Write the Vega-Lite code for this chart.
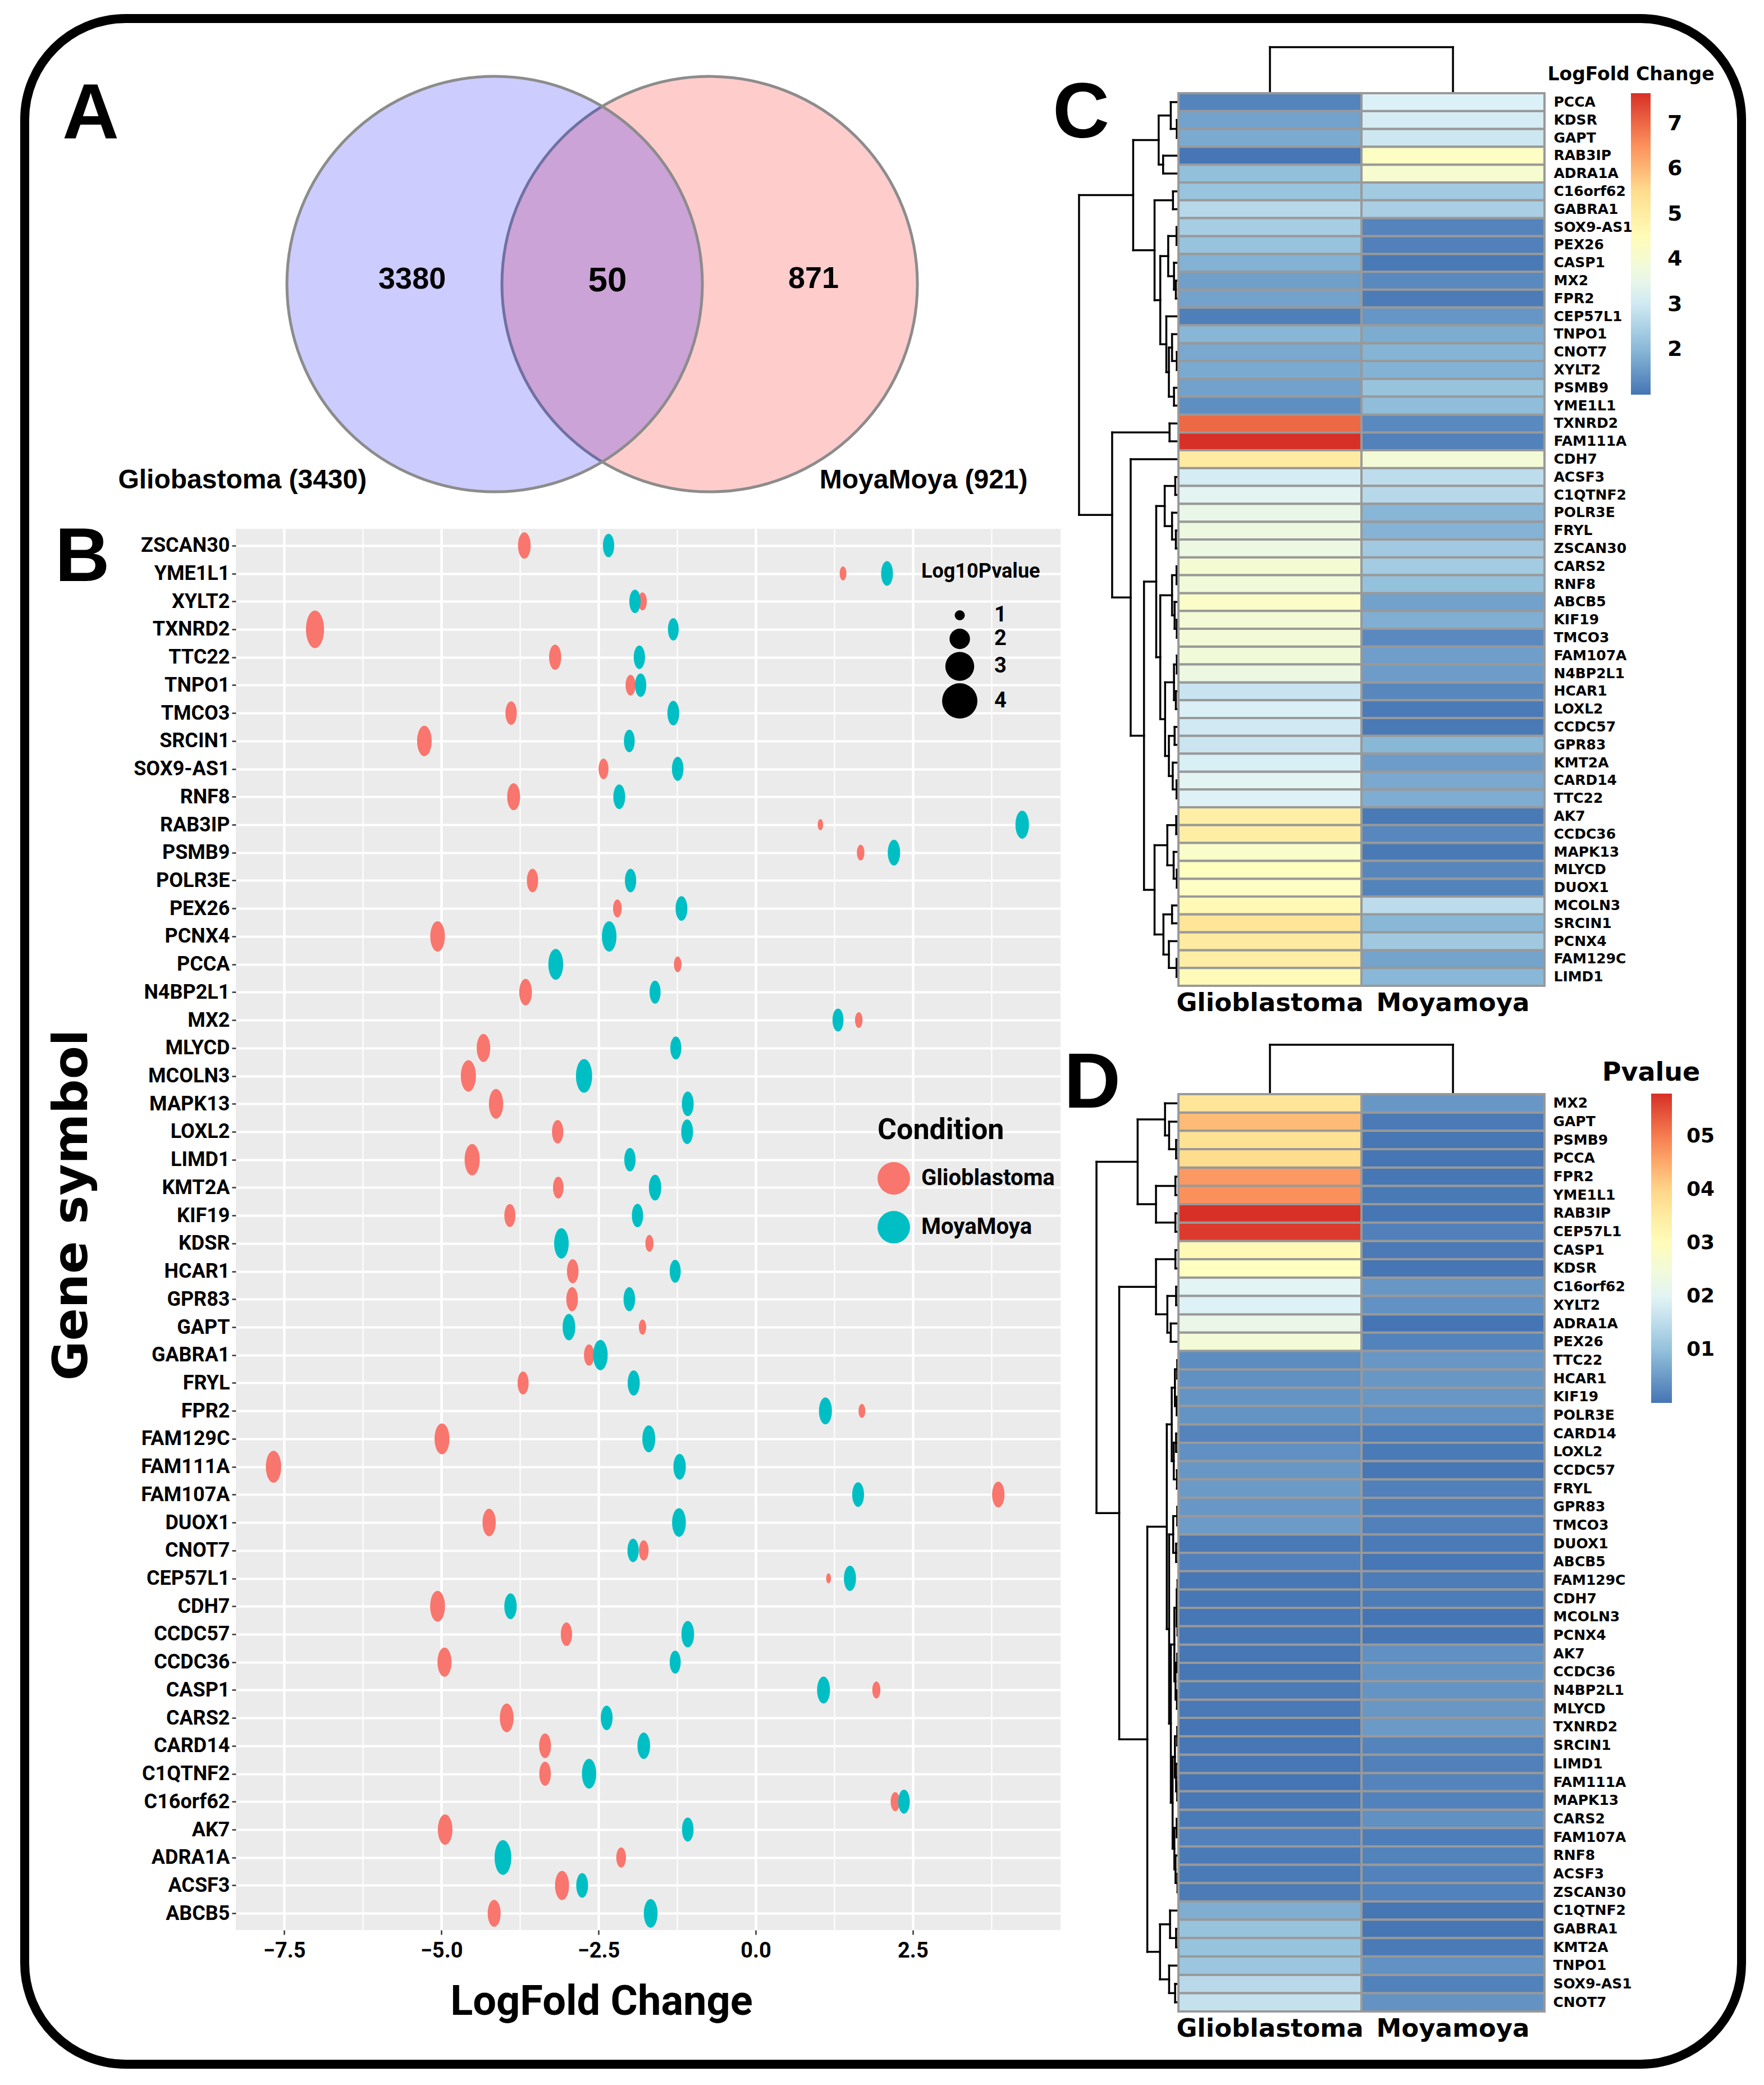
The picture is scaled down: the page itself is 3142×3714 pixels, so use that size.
{
"$schema": "https://vega.github.io/schema/vega-lite/v6.json",
"background": "white",
"padding": {"left": 36, "top": 25, "right": 32, "bottom": 29},
"config": {"view": {"stroke": null}, "axis": {"labelColor": "black", "titleColor": "black"}, "legend": {"labelColor": "black", "titleColor": "black"}},
"datasets": {
"genes": [
{"gene":"ABCB5","cond":"Glioblastoma","lfc":-4.16,"abs":4.16,"p":0.0015,"lp":2.74},
{"gene":"ACSF3","cond":"Glioblastoma","lfc":-3.08,"abs":3.08,"p":0.0008,"lp":3.05},
{"gene":"ADRA1A","cond":"Glioblastoma","lfc":-2.14,"abs":2.14,"p":0.022,"lp":1.98},
{"gene":"AK7","cond":"Glioblastoma","lfc":-4.94,"abs":4.94,"p":0.0002,"lp":3.21},
{"gene":"C16orf62","cond":"Glioblastoma","lfc":2.22,"abs":2.22,"p":0.020,"lp":1.87},
{"gene":"C1QTNF2","cond":"Glioblastoma","lfc":-3.35,"abs":3.35,"p":0.0075,"lp":2.40},
{"gene":"CARD14","cond":"Glioblastoma","lfc":-3.35,"abs":3.35,"p":0.002,"lp":2.46},
{"gene":"CARS2","cond":"Glioblastoma","lfc":-3.96,"abs":3.96,"p":0.0008,"lp":2.97},
{"gene":"CASP1","cond":"Glioblastoma","lfc":1.92,"abs":1.92,"p":0.031,"lp":1.68},
{"gene":"CCDC36","cond":"Glioblastoma","lfc":-4.95,"abs":4.95,"p":0.0003,"lp":3.05},
{"gene":"CCDC57","cond":"Glioblastoma","lfc":-3.01,"abs":3.01,"p":0.0045,"lp":2.33},
{"gene":"CDH7","cond":"Glioblastoma","lfc":-5.06,"abs":5.06,"p":0.0003,"lp":3.29},
{"gene":"CEP57L1","cond":"Glioblastoma","lfc":1.16,"abs":1.16,"p":0.057,"lp":1.24},
{"gene":"CNOT7","cond":"Glioblastoma","lfc":-1.78,"abs":1.78,"p":0.016,"lp":1.98},
{"gene":"DUOX1","cond":"Glioblastoma","lfc":-4.24,"abs":4.24,"p":0.0005,"lp":2.82},
{"gene":"FAM107A","cond":"Glioblastoma","lfc":3.86,"abs":3.86,"p":0.0015,"lp":2.60},
{"gene":"FAM111A","cond":"Glioblastoma","lfc":-7.67,"abs":7.67,"p":0.00005,"lp":3.45},
{"gene":"FAM129C","cond":"Glioblastoma","lfc":-4.99,"abs":4.99,"p":0.0002,"lp":3.29},
{"gene":"FPR2","cond":"Glioblastoma","lfc":1.69,"abs":1.69,"p":0.047,"lp":1.47},
{"gene":"FRYL","cond":"Glioblastoma","lfc":-3.70,"abs":3.70,"p":0.0048,"lp":2.27},
{"gene":"GABRA1","cond":"Glioblastoma","lfc":-2.65,"abs":2.65,"p":0.0105,"lp":2.09},
{"gene":"GAPT","cond":"Glioblastoma","lfc":-1.80,"abs":1.80,"p":0.043,"lp":1.55},
{"gene":"GPR83","cond":"Glioblastoma","lfc":-2.92,"abs":2.92,"p":0.0045,"lp":2.40},
{"gene":"HCAR1","cond":"Glioblastoma","lfc":-2.91,"abs":2.91,"p":0.0035,"lp":2.40},
{"gene":"KDSR","cond":"Glioblastoma","lfc":-1.69,"abs":1.69,"p":0.029,"lp":1.68},
{"gene":"KIF19","cond":"Glioblastoma","lfc":-3.91,"abs":3.91,"p":0.004,"lp":2.27},
{"gene":"KMT2A","cond":"Glioblastoma","lfc":-3.14,"abs":3.14,"p":0.0105,"lp":2.15},
{"gene":"LIMD1","cond":"Glioblastoma","lfc":-4.51,"abs":4.51,"p":0.0003,"lp":3.37},
{"gene":"LOXL2","cond":"Glioblastoma","lfc":-3.15,"abs":3.15,"p":0.0035,"lp":2.33},
{"gene":"MAPK13","cond":"Glioblastoma","lfc":-4.13,"abs":4.13,"p":0.0004,"lp":3.13},
{"gene":"MCOLN3","cond":"Glioblastoma","lfc":-4.57,"abs":4.57,"p":0.0002,"lp":3.37},
{"gene":"MLYCD","cond":"Glioblastoma","lfc":-4.33,"abs":4.33,"p":0.0005,"lp":2.89},
{"gene":"MX2","cond":"Glioblastoma","lfc":1.64,"abs":1.64,"p":0.037,"lp":1.59},
{"gene":"N4BP2L1","cond":"Glioblastoma","lfc":-3.66,"abs":3.66,"p":0.0008,"lp":2.67},
{"gene":"PCCA","cond":"Glioblastoma","lfc":-1.24,"abs":1.24,"p":0.039,"lp":1.59},
{"gene":"PCNX4","cond":"Glioblastoma","lfc":-5.06,"abs":5.06,"p":0.0003,"lp":3.21},
{"gene":"PEX26","cond":"Glioblastoma","lfc":-2.20,"abs":2.20,"p":0.025,"lp":1.77},
{"gene":"POLR3E","cond":"Glioblastoma","lfc":-3.55,"abs":3.55,"p":0.004,"lp":2.33},
{"gene":"PSMB9","cond":"Glioblastoma","lfc":1.67,"abs":1.67,"p":0.038,"lp":1.59},
{"gene":"RAB3IP","cond":"Glioblastoma","lfc":1.03,"abs":1.03,"p":0.058,"lp":1.30},
{"gene":"RNF8","cond":"Glioblastoma","lfc":-3.85,"abs":3.85,"p":0.0008,"lp":2.74},
{"gene":"SOX9-AS1","cond":"Glioblastoma","lfc":-2.42,"abs":2.42,"p":0.0145,"lp":2.03},
{"gene":"SRCIN1","cond":"Glioblastoma","lfc":-5.27,"abs":5.27,"p":0.0003,"lp":3.21},
{"gene":"TMCO3","cond":"Glioblastoma","lfc":-3.89,"abs":3.89,"p":0.005,"lp":2.33},
{"gene":"TNPO1","cond":"Glioblastoma","lfc":-1.99,"abs":1.99,"p":0.011,"lp":2.03},
{"gene":"TTC22","cond":"Glioblastoma","lfc":-3.19,"abs":3.19,"p":0.003,"lp":2.53},
{"gene":"TXNRD2","cond":"Glioblastoma","lfc":-7.01,"abs":7.01,"p":0.00004,"lp":4.40},
{"gene":"XYLT2","cond":"Glioblastoma","lfc":-1.80,"abs":1.80,"p":0.019,"lp":1.77},
{"gene":"YME1L1","cond":"Glioblastoma","lfc":1.39,"abs":1.39,"p":0.048,"lp":1.47},
{"gene":"ZSCAN30","cond":"Glioblastoma","lfc":-3.68,"abs":3.68,"p":0.0009,"lp":2.67},
{"gene":"ABCB5","cond":"MoyaMoya","lfc":-1.67,"abs":1.67,"p":0.0002,"lp":2.97},
{"gene":"ACSF3","cond":"MoyaMoya","lfc":-2.76,"abs":2.76,"p":0.0017,"lp":2.46},
{"gene":"ADRA1A","cond":"MoyaMoya","lfc":-4.02,"abs":4.02,"p":0.00005,"lp":3.91},
{"gene":"AK7","cond":"MoyaMoya","lfc":-1.08,"abs":1.08,"p":0.0035,"lp":2.40},
{"gene":"C16orf62","cond":"MoyaMoya","lfc":2.36,"abs":2.36,"p":0.0045,"lp":2.40},
{"gene":"C1QTNF2","cond":"MoyaMoya","lfc":-2.65,"abs":2.65,"p":0.0001,"lp":3.13},
{"gene":"CARD14","cond":"MoyaMoya","lfc":-1.78,"abs":1.78,"p":0.0012,"lp":2.67},
{"gene":"CARS2","cond":"MoyaMoya","lfc":-2.37,"abs":2.37,"p":0.0035,"lp":2.46},
{"gene":"CASP1","cond":"MoyaMoya","lfc":1.08,"abs":1.08,"p":0.0007,"lp":2.74},
{"gene":"CCDC36","cond":"MoyaMoya","lfc":-1.28,"abs":1.28,"p":0.004,"lp":2.27},
{"gene":"CCDC57","cond":"MoyaMoya","lfc":-1.08,"abs":1.08,"p":0.0002,"lp":2.67},
{"gene":"CDH7","cond":"MoyaMoya","lfc":-3.90,"abs":3.90,"p":0.001,"lp":2.60},
{"gene":"CEP57L1","cond":"MoyaMoya","lfc":1.50,"abs":1.50,"p":0.0015,"lp":2.53},
{"gene":"CNOT7","cond":"MoyaMoya","lfc":-1.95,"abs":1.95,"p":0.0038,"lp":2.33},
{"gene":"DUOX1","cond":"MoyaMoya","lfc":-1.22,"abs":1.22,"p":0.0007,"lp":2.97},
{"gene":"FAM107A","cond":"MoyaMoya","lfc":1.63,"abs":1.63,"p":0.0012,"lp":2.46},
{"gene":"FAM111A","cond":"MoyaMoya","lfc":-1.21,"abs":1.21,"p":0.002,"lp":2.60},
{"gene":"FAM129C","cond":"MoyaMoya","lfc":-1.70,"abs":1.70,"p":0.001,"lp":2.74},
{"gene":"FPR2","cond":"MoyaMoya","lfc":1.11,"abs":1.11,"p":0.0003,"lp":2.74},
{"gene":"FRYL","cond":"MoyaMoya","lfc":-1.94,"abs":1.94,"p":0.0015,"lp":2.53},
{"gene":"GABRA1","cond":"MoyaMoya","lfc":-2.47,"abs":2.47,"p":0.0001,"lp":3.21},
{"gene":"GAPT","cond":"MoyaMoya","lfc":-2.97,"abs":2.97,"p":0.0007,"lp":2.67},
{"gene":"GPR83","cond":"MoyaMoya","lfc":-2.01,"abs":2.01,"p":0.0014,"lp":2.40},
{"gene":"HCAR1","cond":"MoyaMoya","lfc":-1.28,"abs":1.28,"p":0.0045,"lp":2.27},
{"gene":"KDSR","cond":"MoyaMoya","lfc":-3.09,"abs":3.09,"p":0.00008,"lp":3.21},
{"gene":"KIF19","cond":"MoyaMoya","lfc":-1.88,"abs":1.88,"p":0.0045,"lp":2.33},
{"gene":"KMT2A","cond":"MoyaMoya","lfc":-1.60,"abs":1.60,"p":0.0008,"lp":2.60},
{"gene":"LIMD1","cond":"MoyaMoya","lfc":-2.00,"abs":2.00,"p":0.0016,"lp":2.33},
{"gene":"LOXL2","cond":"MoyaMoya","lfc":-1.09,"abs":1.09,"p":0.0008,"lp":2.46},
{"gene":"MAPK13","cond":"MoyaMoya","lfc":-1.08,"abs":1.08,"p":0.0017,"lp":2.46},
{"gene":"MCOLN3","cond":"MoyaMoya","lfc":-2.73,"abs":2.73,"p":0.00006,"lp":3.73},
{"gene":"MLYCD","cond":"MoyaMoya","lfc":-1.27,"abs":1.27,"p":0.0045,"lp":2.27},
{"gene":"MX2","cond":"MoyaMoya","lfc":1.31,"abs":1.31,"p":0.0045,"lp":2.27},
{"gene":"N4BP2L1","cond":"MoyaMoya","lfc":-1.60,"abs":1.60,"p":0.004,"lp":2.27},
{"gene":"PCCA","cond":"MoyaMoya","lfc":-3.18,"abs":3.18,"p":0.0001,"lp":3.29},
{"gene":"PCNX4","cond":"MoyaMoya","lfc":-2.33,"abs":2.33,"p":0.0001,"lp":3.21},
{"gene":"PEX26","cond":"MoyaMoya","lfc":-1.18,"abs":1.18,"p":0.0018,"lp":2.46},
{"gene":"POLR3E","cond":"MoyaMoya","lfc":-1.99,"abs":1.99,"p":0.0035,"lp":2.33},
{"gene":"PSMB9","cond":"MoyaMoya","lfc":2.20,"abs":2.20,"p":0.0003,"lp":2.60},
{"gene":"RAB3IP","cond":"MoyaMoya","lfc":4.24,"abs":4.24,"p":0.0001,"lp":2.89},
{"gene":"RNF8","cond":"MoyaMoya","lfc":-2.17,"abs":2.17,"p":0.0018,"lp":2.46},
{"gene":"SOX9-AS1","cond":"MoyaMoya","lfc":-1.24,"abs":1.24,"p":0.0017,"lp":2.40},
{"gene":"SRCIN1","cond":"MoyaMoya","lfc":-2.01,"abs":2.01,"p":0.002,"lp":2.21},
{"gene":"TMCO3","cond":"MoyaMoya","lfc":-1.31,"abs":1.31,"p":0.0015,"lp":2.46},
{"gene":"TNPO1","cond":"MoyaMoya","lfc":-1.83,"abs":1.83,"p":0.0037,"lp":2.33},
{"gene":"TTC22","cond":"MoyaMoya","lfc":-1.85,"abs":1.85,"p":0.0045,"lp":2.33},
{"gene":"TXNRD2","cond":"MoyaMoya","lfc":-1.31,"abs":1.31,"p":0.0048,"lp":2.21},
{"gene":"XYLT2","cond":"MoyaMoya","lfc":-1.92,"abs":1.92,"p":0.0037,"lp":2.33},
{"gene":"YME1L1","cond":"MoyaMoya","lfc":2.09,"abs":2.09,"p":0.0006,"lp":2.46},
{"gene":"ZSCAN30","cond":"MoyaMoya","lfc":-2.34,"abs":2.34,"p":0.0017,"lp":2.33}
],
"dendC": [
{"h":2.9,"pa":2,"ha":0,"pb":3,"hb":0},
{"h":13.8,"pa":1,"ha":0,"pb":2.5,"hb":2.9},
{"h":27.6,"pa":4,"ha":0,"pb":5,"hb":0},
{"h":35.6,"pa":1.75,"ha":13.8,"pb":4.5,"hb":27.6},
{"h":9.8,"pa":6,"ha":0,"pb":7,"hb":0},
{"h":3.4,"pa":8,"ha":0,"pb":9,"hb":0},
{"h":4.6,"pa":11,"ha":0,"pb":12,"hb":0},
{"h":8,"pa":10,"ha":0,"pb":11.5,"hb":4.6},
{"h":18.4,"pa":8.5,"ha":3.4,"pb":10.75,"hb":8},
{"h":2.9,"pa":15,"ha":0,"pb":16,"hb":0},
{"h":11.5,"pa":14,"ha":0,"pb":15.5,"hb":2.9},
{"h":8,"pa":17,"ha":0,"pb":18,"hb":0},
{"h":17.2,"pa":14.75,"ha":11.5,"pb":17.5,"hb":8},
{"h":21.8,"pa":13,"ha":0,"pb":16.125,"hb":17.2},
{"h":32.7,"pa":9.625,"ha":18.4,"pb":14.5625,"hb":21.8},
{"h":43,"pa":6.5,"ha":9.8,"pb":12.094,"hb":32.7},
{"h":81.5,"pa":3.125,"ha":35.6,"pb":9.297,"hb":43},
{"h":16,"pa":19,"ha":0,"pb":20,"hb":0},
{"h":5.7,"pa":22,"ha":0,"pb":23,"hb":0},
{"h":4.6,"pa":25,"ha":0,"pb":26,"hb":0},
{"h":11.5,"pa":24,"ha":0,"pb":25.5,"hb":4.6},
{"h":24.7,"pa":22.5,"ha":5.7,"pb":24.75,"hb":11.5},
{"h":3.4,"pa":27,"ha":0,"pb":28,"hb":0},
{"h":2.9,"pa":30,"ha":0,"pb":31,"hb":0},
{"h":6.9,"pa":29,"ha":0,"pb":30.5,"hb":2.9},
{"h":11.5,"pa":27.5,"ha":3.4,"pb":29.75,"hb":6.9},
{"h":2.9,"pa":32,"ha":0,"pb":33,"hb":0},
{"h":4.6,"pa":34,"ha":0,"pb":35,"hb":0},
{"h":8,"pa":32.5,"ha":2.9,"pb":34.5,"hb":4.6},
{"h":6.9,"pa":36,"ha":0,"pb":37,"hb":0},
{"h":3.4,"pa":39,"ha":0,"pb":40,"hb":0},
{"h":10.3,"pa":38,"ha":0,"pb":39.5,"hb":3.4},
{"h":17.2,"pa":36.5,"ha":6.9,"pb":38.75,"hb":10.3},
{"h":24,"pa":33.5,"ha":8,"pb":37.625,"hb":17.2},
{"h":32.7,"pa":28.625,"ha":11.5,"pb":35.5625,"hb":24},
{"h":40,"pa":23.625,"ha":24.7,"pb":32.094,"hb":32.7},
{"h":4,"pa":41,"ha":0,"pb":42,"hb":0},
{"h":2.9,"pa":44,"ha":0,"pb":45,"hb":0},
{"h":8.6,"pa":43,"ha":0,"pb":44.5,"hb":2.9},
{"h":20,"pa":41.5,"ha":4,"pb":43.75,"hb":8.6},
{"h":11.5,"pa":46,"ha":0,"pb":47,"hb":0},
{"h":3.4,"pa":49,"ha":0,"pb":50,"hb":0},
{"h":17.2,"pa":48,"ha":0,"pb":49.5,"hb":3.4},
{"h":27,"pa":46.5,"ha":11.5,"pb":48.75,"hb":17.2},
{"h":43,"pa":42.625,"ha":20,"pb":47.625,"hb":27},
{"h":62,"pa":27.859,"ha":40,"pb":45.125,"hb":43},
{"h":86,"pa":21,"ha":0,"pb":36.492,"hb":62},
{"h":119.4,"pa":19.5,"ha":16,"pb":28.746,"hb":86},
{"h":179,"pa":6.211,"ha":81.5,"pb":24.123,"hb":119.4}
],
"dendD": [
{"h":4,"pa":3,"ha":0,"pb":4,"hb":0},
{"h":16,"pa":2,"ha":0,"pb":3.5,"hb":4},
{"h":23,"pa":1,"ha":0,"pb":2.75,"hb":16},
{"h":5.2,"pa":5,"ha":0,"pb":6,"hb":0},
{"h":5.2,"pa":7,"ha":0,"pb":8,"hb":0},
{"h":38.5,"pa":5.5,"ha":5.2,"pb":7.5,"hb":5.2},
{"h":70,"pa":1.875,"ha":23,"pb":6.5,"hb":38.5},
{"h":5.2,"pa":9,"ha":0,"pb":10,"hb":0},
{"h":4,"pa":11,"ha":0,"pb":12,"hb":0},
{"h":13.2,"pa":13,"ha":0,"pb":14,"hb":0},
{"h":19,"pa":11.5,"ha":4,"pb":13.5,"hb":13.2},
{"h":38.5,"pa":9.5,"ha":5.2,"pb":12.5,"hb":19},
{"h":2,"pa":15,"ha":0,"pb":16,"hb":0},
{"h":3,"pa":17,"ha":0,"pb":18,"hb":0},
{"h":6,"pa":15.5,"ha":2,"pb":17.5,"hb":3},
{"h":4,"pa":19,"ha":0,"pb":20,"hb":0},
{"h":2.5,"pa":21,"ha":0,"pb":22,"hb":0},
{"h":8,"pa":19.5,"ha":4,"pb":21.5,"hb":2.5},
{"h":11.5,"pa":16.5,"ha":6,"pb":20.5,"hb":8},
{"h":2,"pa":23,"ha":0,"pb":24,"hb":0},
{"h":4,"pa":25,"ha":0,"pb":26,"hb":0},
{"h":9,"pa":23.5,"ha":2,"pb":25.5,"hb":4},
{"h":1.5,"pa":27,"ha":0,"pb":28,"hb":0},
{"h":1.5,"pa":29,"ha":0,"pb":30,"hb":0},
{"h":3,"pa":27.5,"ha":1.5,"pb":29.5,"hb":1.5},
{"h":2,"pa":31,"ha":0,"pb":32,"hb":0},
{"h":2.5,"pa":33,"ha":0,"pb":34,"hb":0},
{"h":5,"pa":31.5,"ha":2,"pb":33.5,"hb":2.5},
{"h":7,"pa":28.5,"ha":3,"pb":32.5,"hb":5},
{"h":2,"pa":35,"ha":0,"pb":36,"hb":0},
{"h":2,"pa":38,"ha":0,"pb":39,"hb":0},
{"h":4,"pa":37,"ha":0,"pb":38.5,"hb":2},
{"h":6,"pa":35.5,"ha":2,"pb":37.75,"hb":4},
{"h":3,"pa":40,"ha":0,"pb":41,"hb":0},
{"h":1.5,"pa":43,"ha":0,"pb":44,"hb":0},
{"h":5,"pa":42,"ha":0,"pb":43.5,"hb":1.5},
{"h":7,"pa":40.5,"ha":3,"pb":42.75,"hb":5},
{"h":10,"pa":36.625,"ha":6,"pb":41.625,"hb":7},
{"h":13,"pa":30.5,"ha":7,"pb":39.125,"hb":10},
{"h":16,"pa":24.5,"ha":9,"pb":34.8125,"hb":13},
{"h":20,"pa":18.5,"ha":11.5,"pb":29.656,"hb":16},
{"h":4,"pa":46,"ha":0,"pb":47,"hb":0},
{"h":14.4,"pa":45,"ha":0,"pb":46.5,"hb":4},
{"h":5.7,"pa":49,"ha":0,"pb":50,"hb":0},
{"h":16,"pa":48,"ha":0,"pb":49.5,"hb":5.7},
{"h":31.6,"pa":45.75,"ha":14.4,"pb":48.75,"hb":16},
{"h":53.4,"pa":24.078,"ha":20,"pb":47.25,"hb":31.6},
{"h":101.6,"pa":11,"ha":38.5,"pb":35.664,"hb":53.4},
{"h":140.6,"pa":4.1875,"ha":70,"pb":23.332,"hb":101.6}
],
"colDendC": [{"h":83,"pa":1,"ha":0,"pb":2,"hb":0}],
"colDendD": [{"h":88,"pa":1,"ha":0,"pb":2,"hb":0}],
"venn": [{"set":"MoyaMoya","cx":1.035,"cy":0},{"set":"Gliobastoma","cx":0,"cy":0}],
"vennText": [
{"label":"3380","kind":"unique","x":-0.397,"y":0.022},
{"label":"50","kind":"shared","x":0.543,"y":0.016},
{"label":"871","kind":"unique","x":1.535,"y":0.024},
{"label":"Gliobastoma (3430)","kind":"set","x":-1.214,"y":-0.946},
{"label":"MoyaMoya (921)","kind":"set","x":2.065,"y":-0.946}
]
},
"concat": [
{"width": 3058, "height": 3644, "data": {"values": []}, "mark": "point",
 "view": {"stroke": "black", "strokeWidth": 16, "cornerRadius": 180, "fill": null}},
{"vconcat": [
{"width": 10, "height": 48, "data": {"values": []}, "mark": "point", "view": {"fill": "white", "fillOpacity": 0, "stroke": null}},
{"hconcat": [
{"vconcat": [
 {"width": 1469, "height": 860,
  "title": {"text": "A", "anchor": "start", "frame": "group", "orient": "top", "font": "Liberation Sans", "fontSize": 140, "fontWeight": "bold", "color": "black", "baseline": "alphabetic", "offset": -305, "dx": -309},
  "layer": [
   {"data": {"name": "venn"},
    "mark": {"type": "point", "shape": "circle", "filled": true, "size": 547600, "opacity": 1, "fillOpacity": 0.2, "stroke": "#8C8C8C", "strokeWidth": 5, "strokeOpacity": 1},
    "encoding": {
     "x": {"field": "cx", "type": "quantitative", "scale": {"domain": [-1.246, 2.724], "nice": false, "zero": false}, "axis": null},
     "y": {"field": "cy", "type": "quantitative", "scale": {"domain": [-1.178, 1.146], "nice": false, "zero": false}, "axis": null},
     "color": {"field": "set", "type": "nominal", "scale": {"domain": ["MoyaMoya", "Gliobastoma"], "range": ["#FF0000", "#0000FF"]}, "legend": null}}},
   {"data": {"name": "vennText"}, "transform": [{"filter": "datum.kind == 'unique'"}],
    "mark": {"type": "text", "font": "Liberation Sans", "fontWeight": "bold", "fontSize": 54, "color": "black", "align": "center", "baseline": "middle"},
    "encoding": {
     "x": {"field": "x", "type": "quantitative", "scale": {"domain": [-1.246, 2.724], "nice": false, "zero": false}, "axis": null},
     "y": {"field": "y", "type": "quantitative", "scale": {"domain": [-1.178, 1.146], "nice": false, "zero": false}, "axis": null},
     "text": {"field": "label"}}},
   {"data": {"name": "vennText"}, "transform": [{"filter": "datum.kind == 'shared'"}],
    "mark": {"type": "text", "font": "Liberation Sans", "fontWeight": "bold", "fontSize": 62, "color": "black", "align": "center", "baseline": "middle"},
    "encoding": {
     "x": {"field": "x", "type": "quantitative", "scale": {"domain": [-1.246, 2.724], "nice": false, "zero": false}, "axis": null},
     "y": {"field": "y", "type": "quantitative", "scale": {"domain": [-1.178, 1.146], "nice": false, "zero": false}, "axis": null},
     "text": {"field": "label"}}},
   {"data": {"name": "vennText"}, "transform": [{"filter": "datum.kind == 'set'"}],
    "mark": {"type": "text", "font": "Liberation Sans", "fontWeight": "bold", "fontSize": 48, "color": "black", "align": "center", "baseline": "middle"},
    "encoding": {
     "x": {"field": "x", "type": "quantitative", "scale": {"domain": [-1.246, 2.724], "nice": false, "zero": false}, "axis": null},
     "y": {"field": "y", "type": "quantitative", "scale": {"domain": [-1.178, 1.146], "nice": false, "zero": false}, "axis": null},
     "text": {"field": "label"}}}
  ]},
 {"width": 1469, "height": 2496,
  "view": {"fill": "#EBEBEB", "stroke": null},
  "title": {"text": "B", "anchor": "start", "frame": "group", "orient": "top", "font": "Liberation Sans", "fontSize": 135, "fontWeight": "bold", "color": "black", "baseline": "alphabetic", "offset": -228, "dx": -322},
  "data": {"name": "genes"},
  "encoding": {
   "y": {"field": "gene", "type": "nominal",
    "sort": ["ZSCAN30","YME1L1","XYLT2","TXNRD2","TTC22","TNPO1","TMCO3","SRCIN1","SOX9-AS1","RNF8","RAB3IP","PSMB9","POLR3E","PEX26","PCNX4","PCCA","N4BP2L1","MX2","MLYCD","MCOLN3","MAPK13","LOXL2","LIMD1","KMT2A","KIF19","KDSR","HCAR1","GPR83","GAPT","GABRA1","FRYL","FPR2","FAM129C","FAM111A","FAM107A","DUOX1","CNOT7","CEP57L1","CDH7","CCDC57","CCDC36","CASP1","CARS2","CARD14","C1QTNF2","C16orf62","AK7","ADRA1A","ACSF3","ABCB5"],
    "scale": {"type": "point", "padding": 0.6},
    "axis": {"title": "Gene symbol", "titleFont": "DejaVu Sans", "titleFontSize": 86, "titleFontWeight": "bold", "titleAngle": 270, "titleX": -266, "titleY": 1204, "titleAlign": "center", "titleBaseline": "alphabetic",
     "labelFont": "Roboto", "labelFontSize": 36, "labelFontWeight": "bold", "labelLimit": 500, "labelPadding": 4, "labelOverlap": false,
     "tickColor": "#333333", "tickSize": 7, "tickWidth": 2.5, "domain": false, "grid": true, "gridColor": "white", "gridWidth": 4}}
  },
  "layer": [
   {"mark": {"type": "point", "opacity": 0},
    "encoding": {"x": {"field": "lfc", "type": "quantitative", "scale": {"domain": [-8.27, 4.85], "nice": false, "zero": false},
     "axis": {"orient": "bottom", "values": [-6.25, -3.75, -1.25, 1.25, 3.75], "grid": true, "gridColor": "white", "gridWidth": 2.2, "labels": false, "ticks": false, "domain": false, "title": null}}}},
   {"mark": {"type": "point", "shape": "M-0.48,0A0.48,1,0,1,0,0.48,0A0.48,1,0,1,0,-0.48,0Z", "filled": true, "opacity": 1, "strokeWidth": 0},
    "encoding": {
     "x": {"field": "lfc", "type": "quantitative", "scale": {"domain": [-8.27, 4.85], "nice": false, "zero": false},
      "axis": {"orient": "bottom", "values": [-7.5, -5, -2.5, 0, 2.5], "format": ".1f", "title": "LogFold Change",
       "titleFont": "Roboto", "titleFontSize": 74, "titleFontWeight": "bold", "titleX": 651, "titlePadding": 36,
       "labelFont": "Roboto", "labelFontSize": 38, "labelFontWeight": "bold", "labelPadding": 10,
       "tickColor": "#333333", "tickSize": 8, "tickWidth": 2.5, "domain": false, "grid": true, "gridColor": "white", "gridWidth": 4.5}},
     "color": {"field": "cond", "type": "nominal", "scale": {"domain": ["Glioblastoma", "MoyaMoya"], "range": ["#F8766D", "#00BFC4"]},
      "legend": {"title": "Condition", "orient": "none", "legendX": 1143, "legendY": 1046, "symbolType": "circle", "symbolSize": 3364, "symbolStrokeWidth": 0, "symbolOpacity": 1,
       "titleFont": "Roboto", "titleFontSize": 52, "titleFontWeight": "bold", "titleLimit": 600,
       "labelFont": "Roboto", "labelFontSize": 40, "labelFontWeight": "bold", "labelLimit": 500,
       "rowPadding": 29, "labelOffset": 20, "titlePadding": 30}},
     "size": {"field": "lp", "type": "quantitative", "scale": {"domain": [1.24, 4.4], "range": [324, 4489], "zero": false, "clamp": true},
      "legend": {"title": "Log10Pvalue", "orient": "none", "legendX": 1221, "legendY": 59, "values": [1, 2, 3, 4], "format": "d", "symbolType": "circle", "symbolFillColor": "black", "symbolStrokeColor": "black", "symbolStrokeWidth": 0, "symbolOpacity": 1,
       "titleFont": "Roboto", "titleFontSize": 36, "titleFontWeight": "bold", "titleLimit": 600,
       "labelFont": "Roboto", "labelFontSize": 38, "labelFontWeight": "bold", "labelLimit": 300,
       "rowPadding": 4, "labelOffset": 30, "symbolOffset": 37, "titlePadding": 40}}
    }}
  ],
  "resolve": {"axis": {"x": "independent"}}}
 ], "spacing": 0, "bounds": "flush",
 "resolve": {"scale": {"color": "independent", "size": "independent"}, "legend": {"color": "independent", "size": "independent"}}},
{"concat": [
 {"width": 180, "height": 84, "data": {"values": []}, "mark": "point",
  "title": {"text": "C", "anchor": "start", "frame": "group", "orient": "top", "font": "Liberation Sans", "fontSize": 140, "fontWeight": "bold", "color": "black", "baseline": "alphabetic", "offset": -303, "dx": -44}},
 {"width": 652, "height": 84, "data": {"name": "colDendC"},
  "layer": [
   {"mark": {"type": "rule", "color": "black", "strokeWidth": 3.5, "strokeCap": "square"},
    "encoding": {"x": {"field": "pa", "type": "quantitative", "scale": {"domain": [0.5, 2.5], "nice": false, "zero": false}, "axis": null},
     "y": {"field": "ha", "type": "quantitative", "scale": {"domain": [0, 85], "nice": false, "zero": false}, "axis": null}, "y2": {"field": "h"}}},
   {"mark": {"type": "rule", "color": "black", "strokeWidth": 3.5, "strokeCap": "square"},
    "encoding": {"x": {"field": "pb", "type": "quantitative", "scale": {"domain": [0.5, 2.5], "nice": false, "zero": false}, "axis": null},
     "y": {"field": "hb", "type": "quantitative", "scale": {"domain": [0, 85], "nice": false, "zero": false}, "axis": null}, "y2": {"field": "h"}}},
   {"mark": {"type": "rule", "color": "black", "strokeWidth": 3.5, "strokeCap": "square"},
    "encoding": {"x": {"field": "pa", "type": "quantitative", "scale": {"domain": [0.5, 2.5], "nice": false, "zero": false}, "axis": null}, "x2": {"field": "pb"},
     "y": {"field": "h", "type": "quantitative", "scale": {"domain": [0, 85], "nice": false, "zero": false}, "axis": null}}}
  ]},
 {"width": 180, "height": 1590, "data": {"name": "dendC"},
  "layer": [
   {"mark": {"type": "rule", "color": "black", "strokeWidth": 3.5, "strokeCap": "square"},
    "encoding": {"x": {"field": "h", "type": "quantitative", "scale": {"domain": [0, 182], "reverse": true, "nice": false, "zero": false}, "axis": null},
     "y": {"field": "pa", "type": "quantitative", "scale": {"domain": [0.5, 50.5], "reverse": true, "nice": false, "zero": false}, "axis": null}, "y2": {"field": "pb"}}},
   {"mark": {"type": "rule", "color": "black", "strokeWidth": 3.5, "strokeCap": "square"},
    "encoding": {"x": {"field": "ha", "type": "quantitative", "scale": {"domain": [0, 182], "reverse": true, "nice": false, "zero": false}, "axis": null}, "x2": {"field": "h"},
     "y": {"field": "pa", "type": "quantitative", "scale": {"domain": [0.5, 50.5], "reverse": true, "nice": false, "zero": false}, "axis": null}}},
   {"mark": {"type": "rule", "color": "black", "strokeWidth": 3.5, "strokeCap": "square"},
    "encoding": {"x": {"field": "hb", "type": "quantitative", "scale": {"domain": [0, 182], "reverse": true, "nice": false, "zero": false}, "axis": null}, "x2": {"field": "h"},
     "y": {"field": "pb", "type": "quantitative", "scale": {"domain": [0.5, 50.5], "reverse": true, "nice": false, "zero": false}, "axis": null}}}
  ]},
 {"width": 652, "height": 1590, "data": {"name": "genes"},
  "mark": {"type": "rect", "stroke": "#999999", "strokeWidth": 4},
  "encoding": {
   "x": {"field": "cond", "type": "nominal", "sort": ["Glioblastoma", "MoyaMoya"], "scale": {"paddingInner": 0, "paddingOuter": 0},
    "axis": {"orient": "bottom", "title": null, "labelAngle": 0, "labelFont": "DejaVu Sans", "labelFontSize": 45, "labelFontWeight": "bold", "labelPadding": 8, "ticks": false, "domain": false, "labelLimit": 600, "labelOverlap": false,
     "labelExpr": "datum.label == 'MoyaMoya' ? 'Moyamoya' : datum.label"}},
   "y": {"field": "gene", "type": "nominal",
    "sort": ["PCCA","KDSR","GAPT","RAB3IP","ADRA1A","C16orf62","GABRA1","SOX9-AS1","PEX26","CASP1","MX2","FPR2","CEP57L1","TNPO1","CNOT7","XYLT2","PSMB9","YME1L1","TXNRD2","FAM111A","CDH7","ACSF3","C1QTNF2","POLR3E","FRYL","ZSCAN30","CARS2","RNF8","ABCB5","KIF19","TMCO3","FAM107A","N4BP2L1","HCAR1","LOXL2","CCDC57","GPR83","KMT2A","CARD14","TTC22","AK7","CCDC36","MAPK13","MLYCD","DUOX1","MCOLN3","SRCIN1","PCNX4","FAM129C","LIMD1"],
    "scale": {"paddingInner": 0, "paddingOuter": 0},
    "axis": {"orient": "right", "title": null, "labelFont": "DejaVu Sans", "labelFontSize": 25, "labelFontWeight": "bold", "labelPadding": 16, "ticks": false, "domain": false, "labelLimit": 400, "labelOverlap": false}},
   "color": {"field": "abs", "type": "quantitative",
    "scale": {"domain": [1.01, 2.1217, 3.2333, 4.345, 5.4567, 6.5683, 7.68], "range": ["#4575B4", "#91BFDB", "#E0F3F8", "#FFFFBF", "#FEE090", "#FC8D59", "#D73027"], "interpolate": "rgb"},
    "legend": {"title": "LogFold Change", "orient": "none", "legendX": 657, "legendY": -49, "direction": "vertical", "gradientLength": 537, "gradientThickness": 35, "gradientStrokeWidth": 0,
     "values": [2, 3, 4, 5, 6, 7], "format": "d", "labelFont": "DejaVu Sans", "labelFontSize": 38, "labelFontWeight": "bold", "labelOffset": 30, "labelOverlap": false,
     "titleFont": "DejaVu Sans", "titleFontSize": 33, "titleFontWeight": "bold", "titleAnchor": "start", "titleAlign": "center", "titlePadding": 16, "titleLimit": 600}}
  }},
 {"width": 180, "height": 193, "data": {"values": []}, "mark": "point",
  "title": {"text": "D", "anchor": "start", "frame": "group", "orient": "top", "font": "Liberation Sans", "fontSize": 140, "fontWeight": "bold", "color": "black", "baseline": "alphabetic", "offset": -357, "dx": -24}},
 {"width": 652, "height": 193, "data": {"name": "colDendD"},
  "layer": [
   {"mark": {"type": "rule", "color": "black", "strokeWidth": 3.5, "strokeCap": "square"},
    "encoding": {"x": {"field": "pa", "type": "quantitative", "scale": {"domain": [0.5, 2.5], "nice": false, "zero": false}, "axis": null},
     "y": {"field": "ha", "type": "quantitative", "scale": {"domain": [0, 193], "nice": false, "zero": false}, "axis": null}, "y2": {"field": "h"}}},
   {"mark": {"type": "rule", "color": "black", "strokeWidth": 3.5, "strokeCap": "square"},
    "encoding": {"x": {"field": "pb", "type": "quantitative", "scale": {"domain": [0.5, 2.5], "nice": false, "zero": false}, "axis": null},
     "y": {"field": "hb", "type": "quantitative", "scale": {"domain": [0, 193], "nice": false, "zero": false}, "axis": null}, "y2": {"field": "h"}}},
   {"mark": {"type": "rule", "color": "black", "strokeWidth": 3.5, "strokeCap": "square"},
    "encoding": {"x": {"field": "pa", "type": "quantitative", "scale": {"domain": [0.5, 2.5], "nice": false, "zero": false}, "axis": null}, "x2": {"field": "pb"},
     "y": {"field": "h", "type": "quantitative", "scale": {"domain": [0, 193], "nice": false, "zero": false}, "axis": null}}}
  ]},
 {"width": 180, "height": 1634, "data": {"name": "dendD"},
  "layer": [
   {"mark": {"type": "rule", "color": "black", "strokeWidth": 3.5, "strokeCap": "square"},
    "encoding": {"x": {"field": "h", "type": "quantitative", "scale": {"domain": [0, 173.4], "reverse": true, "nice": false, "zero": false}, "axis": null},
     "y": {"field": "pa", "type": "quantitative", "scale": {"domain": [0.5, 50.5], "reverse": true, "nice": false, "zero": false}, "axis": null}, "y2": {"field": "pb"}}},
   {"mark": {"type": "rule", "color": "black", "strokeWidth": 3.5, "strokeCap": "square"},
    "encoding": {"x": {"field": "ha", "type": "quantitative", "scale": {"domain": [0, 173.4], "reverse": true, "nice": false, "zero": false}, "axis": null}, "x2": {"field": "h"},
     "y": {"field": "pa", "type": "quantitative", "scale": {"domain": [0.5, 50.5], "reverse": true, "nice": false, "zero": false}, "axis": null}}},
   {"mark": {"type": "rule", "color": "black", "strokeWidth": 3.5, "strokeCap": "square"},
    "encoding": {"x": {"field": "hb", "type": "quantitative", "scale": {"domain": [0, 173.4], "reverse": true, "nice": false, "zero": false}, "axis": null}, "x2": {"field": "h"},
     "y": {"field": "pb", "type": "quantitative", "scale": {"domain": [0.5, 50.5], "reverse": true, "nice": false, "zero": false}, "axis": null}}}
  ]},
 {"width": 652, "height": 1634, "data": {"name": "genes"},
  "mark": {"type": "rect", "stroke": "#999999", "strokeWidth": 4},
  "encoding": {
   "x": {"field": "cond", "type": "nominal", "sort": ["Glioblastoma", "MoyaMoya"], "scale": {"paddingInner": 0, "paddingOuter": 0},
    "axis": {"orient": "bottom", "title": null, "labelAngle": 0, "labelFont": "DejaVu Sans", "labelFontSize": 45, "labelFontWeight": "bold", "labelPadding": 8, "ticks": false, "domain": false, "labelLimit": 600, "labelOverlap": false,
     "labelExpr": "datum.label == 'MoyaMoya' ? 'Moyamoya' : datum.label"}},
   "y": {"field": "gene", "type": "nominal",
    "sort": ["MX2","GAPT","PSMB9","PCCA","FPR2","YME1L1","RAB3IP","CEP57L1","CASP1","KDSR","C16orf62","XYLT2","ADRA1A","PEX26","TTC22","HCAR1","KIF19","POLR3E","CARD14","LOXL2","CCDC57","FRYL","GPR83","TMCO3","DUOX1","ABCB5","FAM129C","CDH7","MCOLN3","PCNX4","AK7","CCDC36","N4BP2L1","MLYCD","TXNRD2","SRCIN1","LIMD1","FAM111A","MAPK13","CARS2","FAM107A","RNF8","ACSF3","ZSCAN30","C1QTNF2","GABRA1","KMT2A","TNPO1","SOX9-AS1","CNOT7"],
    "scale": {"paddingInner": 0, "paddingOuter": 0},
    "axis": {"orient": "right", "title": null, "labelFont": "DejaVu Sans", "labelFontSize": 25, "labelFontWeight": "bold", "labelPadding": 15, "ticks": false, "domain": false, "labelLimit": 400, "labelOverlap": false}},
   "color": {"field": "p", "type": "quantitative",
    "scale": {"domain": [0, 0.009667, 0.019333, 0.029, 0.038667, 0.048333, 0.058], "range": ["#4575B4", "#91BFDB", "#E0F3F8", "#FFFFBF", "#FEE090", "#FC8D59", "#D73027"], "interpolate": "rgb"},
    "legend": {"title": "Pvalue", "orient": "none", "legendX": 755, "legendY": -60, "direction": "vertical", "gradientLength": 551, "gradientThickness": 37, "gradientStrokeWidth": 0,
     "values": [0.01, 0.02, 0.03, 0.04, 0.05], "labelExpr": "replace(format(datum.value, '.2f'), '0.', '')", "labelFont": "DejaVu Sans", "labelFontSize": 36, "labelFontWeight": "bold", "labelOffset": 26, "labelOverlap": false,
     "titleFont": "DejaVu Sans", "titleFontSize": 46, "titleFontWeight": "bold", "titleAnchor": "start", "titleAlign": "center", "titlePadding": 13, "titleLimit": 600}}
  }}
 ], "columns": 2, "spacing": 0, "bounds": "flush", "align": "each",
 "resolve": {"scale": {"color": "independent"}, "legend": {"color": "independent"}}}
],
"spacing": -14,
"resolve": {"scale": {"color": "independent", "size": "independent"}, "legend": {"color": "independent", "size": "independent"}}}
], "spacing": 0,
"resolve": {"scale": {"color": "independent", "size": "independent"}, "legend": {"color": "independent", "size": "independent"}}}
],
"columns": 2,
"align": "none",
"spacing": -3025,
"resolve": {"scale": {"color": "independent", "size": "independent"}, "legend": {"color": "independent", "size": "independent"}}
}
